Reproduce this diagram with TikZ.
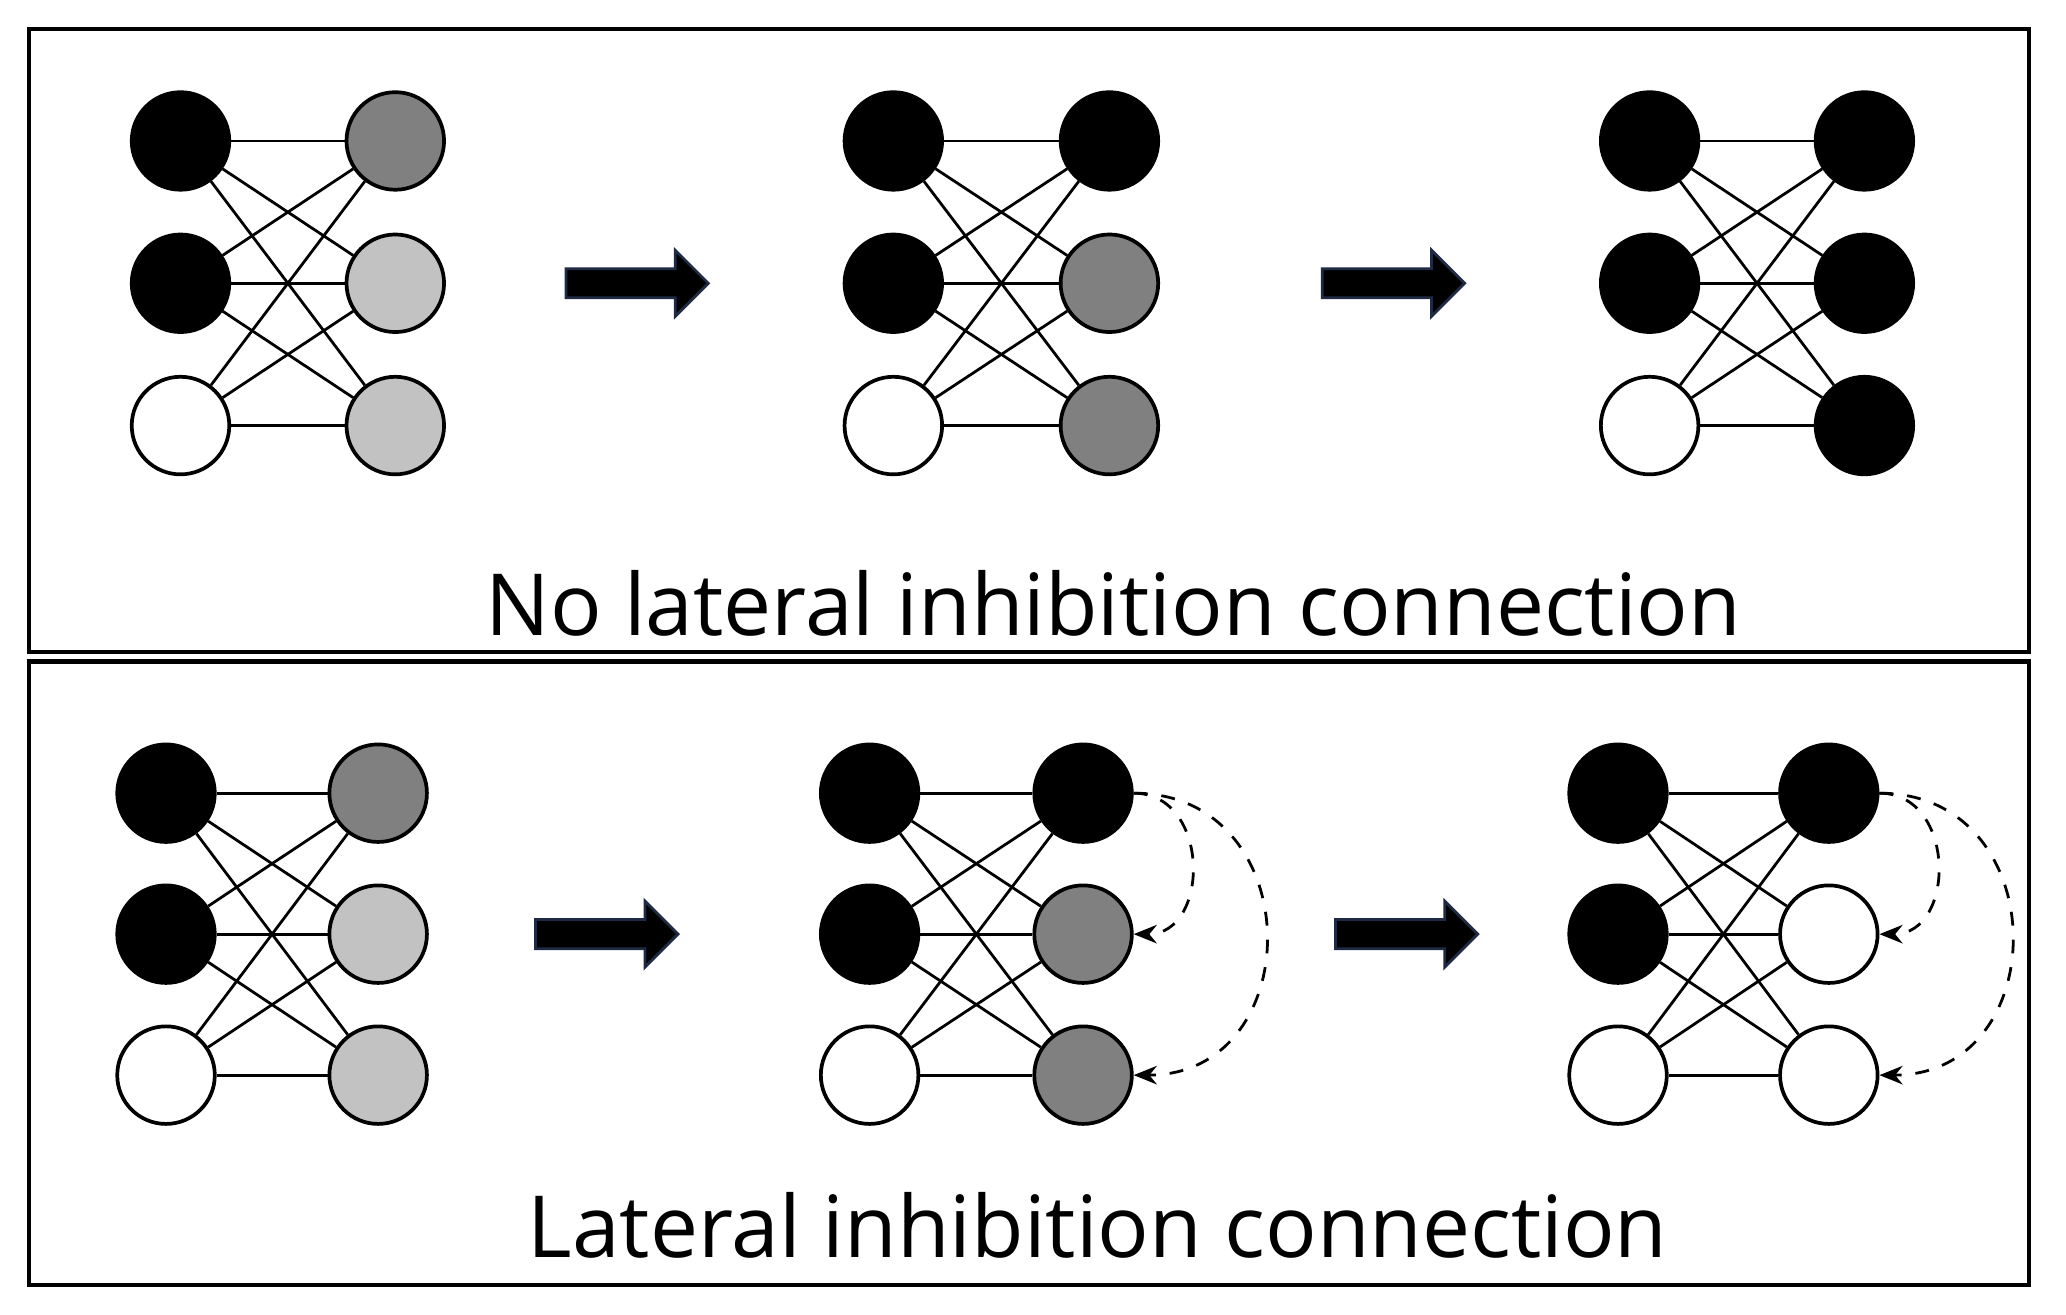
\documentclass[tikz,border=0pt]{standalone}
\usepackage{fontspec}
\setmainfont{Open Sans}
\usetikzlibrary{shapes.arrows,arrows.meta}
\definecolor{dk}{HTML}{808080}
\definecolor{lt}{HTML}{C2C2C2}
\definecolor{nv}{HTML}{1F2A44}
\tikzset{
  neu/.style={circle,draw=black,line width=0.8pt,minimum size=0.74cm,inner sep=0pt},
  edge/.style={line width=0.6pt},
  frame/.style={line width=0.9pt},
  bigarrow/.style={single arrow,fill=black,draw=nv,line width=0.6pt,minimum height=1.08cm,minimum width=0.5cm,single arrow head extend=0.14cm,inner xsep=0pt,inner ysep=0.1cm,shape border rotate=0},
  inhib/.style={dashed,line width=0.6pt,-{Stealth[length=5pt,width=4pt]}},
  lbl/.style={font=\fontsize{18.5}{22}\selectfont}
}
\newcommand\mygrp[9]{% prefix, lx, rx, y1, dy, L colors, R c1, c2, c3
  \foreach \c [count=\i] in {#6}{\node[neu,fill=\c] (#1L\i) at (#2,{#4+(\i-1)*#5}) {};}
  \node[neu,fill=#7] (#1R1) at (#3,#4) {};
  \node[neu,fill=#8] (#1R2) at (#3,{#4+#5}) {};
  \node[neu,fill=#9] (#1R3) at (#3,{#4+2*#5}) {};
  \foreach \i in {1,2,3}{\foreach \j in {1,2,3}{\draw[edge] (#1L\i) -- (#1R\j);}}
}
\begin{document}
\begin{tikzpicture}[x=0.01cm,y=-0.01cm]
\useasboundingbox (0,0) rectangle (1568,998);
\draw[frame] (22,22) rectangle (1540,495);
\draw[frame] (22,502) rectangle (1540,975);
% top
\mygrp{a}{137}{300}{107}{108}{black,black,white}{dk}{lt}{lt}
\mygrp{b}{678}{842}{107}{108}{black,black,white}{black}{dk}{dk}
\mygrp{c}{1252}{1415}{107}{108}{black,black,white}{black}{black}{black}
\node[bigarrow] (ar1) at (478,215) {};
\node[bigarrow] (ar2) at (1052,215) {};
\node[lbl] (t1) at (845,458) {No lateral inhibition connection};
% bottom
\mygrp{d}{126}{287}{602}{107}{black,black,white}{dk}{lt}{lt}
\mygrp{e}{660}{822}{602}{107}{black,black,white}{black}{dk}{dk}
\mygrp{f}{1228}{1388}{602}{107}{black,black,white}{black}{white}{white}
\node[bigarrow] (ar3) at (455,709) {};
\node[bigarrow] (ar4) at (1062,709) {};
\draw[inhib] (eR1.east) to[out=0,in=0,looseness=1.4] (eR2.east);
\draw[inhib] (eR1.east) to[out=0,in=0,looseness=1.6] (eR3.east);
\draw[inhib] (fR1.east) to[out=0,in=0,looseness=1.4] (fR2.east);
\draw[inhib] (fR1.east) to[out=0,in=0,looseness=1.6] (fR3.east);
\node[lbl] (t2) at (833,930) {Lateral inhibition connection};
\end{tikzpicture}
\end{document}
